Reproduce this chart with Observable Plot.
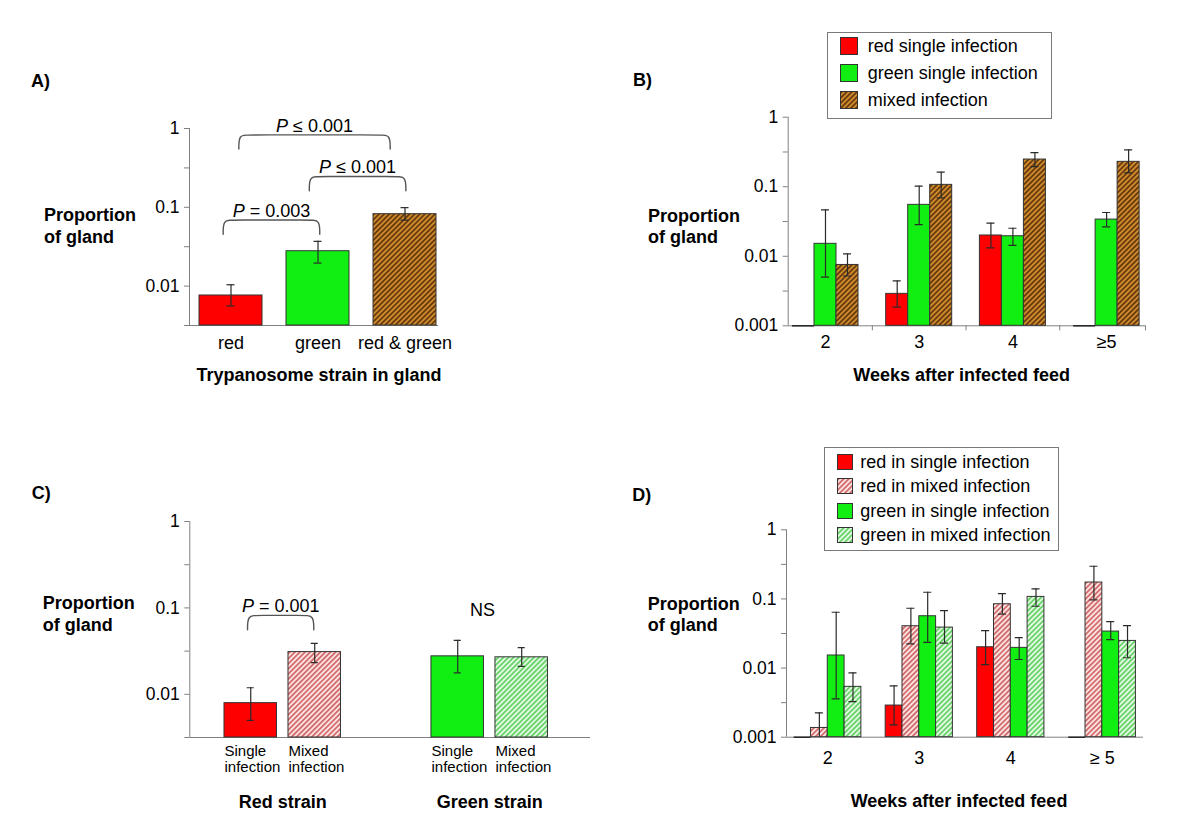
<!DOCTYPE html>
<html>
<head>
<meta charset="utf-8">
<script src="https://cdn.jsdelivr.net/npm/d3@7"></script>
<script src="https://cdn.jsdelivr.net/npm/@observablehq/plot@0.6"></script>
<style>
  html, body { margin: 0; padding: 0; background: #fff; }
  #page { position: relative; width: 1200px; height: 831px; overflow: hidden;
          font-family: "Liberation Sans", Arial, Helvetica, sans-serif; color: #000; }
  .abs { position: absolute; white-space: nowrap; }
  .legend { position: absolute; border: 1px solid #7a7a7a; background: #fff; box-sizing: border-box; }
</style>
</head>
<body>
<svg width="0" height="0" style="position:absolute">
  <defs>
    <pattern id="hatchBrown" width="3.6" height="3.6" patternUnits="userSpaceOnUse" patternTransform="rotate(45)">
      <rect width="3.6" height="3.6" fill="#d08a2e"/>
      <line x1="1.8" y1="0" x2="1.8" y2="3.6" stroke="#5c3208" stroke-width="1.6"/>
    </pattern>
    <pattern id="hatchRed" width="3.6" height="3.6" patternUnits="userSpaceOnUse" patternTransform="rotate(45)">
      <rect width="3.6" height="3.6" fill="#fde2e2"/>
      <line x1="1.8" y1="0" x2="1.8" y2="3.6" stroke="#c24040" stroke-width="1.3"/>
    </pattern>
    <pattern id="hatchGreen" width="3.6" height="3.6" patternUnits="userSpaceOnUse" patternTransform="rotate(45)">
      <rect width="3.6" height="3.6" fill="#e2f9e2"/>
      <line x1="1.8" y1="0" x2="1.8" y2="3.6" stroke="#3cc43c" stroke-width="1.3"/>
    </pattern>
  </defs>
</svg>
<div id="page"></div>
<script>
// ===================== DATA =====================
const yTicksAB = [1, 0.1, 0.01, 0.001];
const yTickLabelsAB = ["1", "0.1", "0.01", "0.001"];

// ---- Panel A: proportion of gland by strain ----
const aStrains = ["red", "green", "red & green"];
const aMean = [0.0076, 0.0277, 0.0818];
const aLow  = [0.0056, 0.0196, 0.0687];
const aHigh = [0.0104, 0.0370, 0.0990];
const aPLabels = ["P = 0.003", "P ≤ 0.001", "P ≤ 0.001"];
const aPFrom  = [-0.09, 0.90, 0.09];   // bracket ends, in category units
const aPTo    = [1.02, 2.01, 1.83];
const aPLevel = [0.069, 0.246, 0.83];  // bracket height, proportion

// ---- Panel B: by weeks after infected feed ----
const weeksB = ["2", "3", "4", "≥5"];
const bSeries = ["red single infection", "green single infection", "mixed infection"];
const bRedMean   = [0, 0.00288, 0.0199, 0];
const bRedLow    = [null, 0.00185, 0.0132, null];
const bRedHigh   = [null, 0.00442, 0.0299, null];
const bGreenMean = [0.0151, 0.0549, 0.0194, 0.0337];
const bGreenLow  = [0.0050, 0.0286, 0.0143, 0.0265];
const bGreenHigh = [0.0465, 0.1017, 0.0253, 0.0426];
const bMixMean   = [0.0075, 0.1064, 0.246, 0.228];
const bMixLow    = [0.0052, 0.0692, 0.195, 0.158];
const bMixHigh   = [0.0108, 0.1617, 0.310, 0.340];

// ---- Panel C: strain in single vs mixed infection ----
const cStrains = ["Red strain", "Green strain"];
const cInfection = ["Single infection", "Mixed infection"];
const cRedMean   = [0.0079, 0.0308];
const cRedLow    = [0.0050, 0.0232];
const cRedHigh   = [0.0119, 0.0388];
const cGreenMean = [0.0275, 0.0268];
const cGreenLow  = [0.0177, 0.0211];
const cGreenHigh = [0.0421, 0.0346];
const cPLabels = ["P = 0.001"];
const cPFrom  = [-0.17];
const cPTo    = [0.15];
const cPLevel = [0.082];
const cNsLabel = "NS";
const cNsLevel = 0.0936;

// ---- Panel D: by weeks, each strain in single / mixed ----
const weeksD = ["2", "3", "4", "≥ 5"];
const dSeries = ["red in single infection", "red in mixed infection", "green in single infection", "green in mixed infection"];
const dRedSingleMean   = [0, 0.00287, 0.0200, 0];
const dRedSingleLow    = [null, 0.00151, 0.0112, null];
const dRedSingleHigh   = [null, 0.00552, 0.0349, null];
const dRedMixedMean    = [0.00136, 0.0403, 0.0838, 0.1727];
const dRedMixedLow     = [0.0008, 0.0224, 0.0601, 0.0970];
const dRedMixedHigh    = [0.00225, 0.0733, 0.1197, 0.297];
const dGreenSingleMean = [0.0152, 0.0562, 0.0196, 0.0337];
const dGreenSingleLow  = [0.00358, 0.0236, 0.0133, 0.0258];
const dGreenSingleHigh = [0.0642, 0.125, 0.0276, 0.0471];
const dGreenMixedMean  = [0.00535, 0.0385, 0.107, 0.0247];
const dGreenMixedLow   = [0.00327, 0.0229, 0.0784, 0.0141];
const dGreenMixedHigh  = [0.00853, 0.0679, 0.140, 0.0412];

// ===================== STYLE =====================
const FONT = '"Liberation Sans", Arial, Helvetica, sans-serif';
const AXIS = "#808080";
const BAR_STROKE = "#333";
const ERR = "#2a2a2a";
const BRACKET = "#555";
const RED = "#ff0000", GREEN = "#11ee11";
const BROWN_H = "url(#hatchBrown)", RED_H = "url(#hatchRed)", GREEN_H = "url(#hatchGreen)";
const page = document.getElementById("page");

// ===================== HELPERS =====================
function addText(lines, x, yCenter, {size = 18, bold = false, anchor = "start", lh = size} = {}) {
  const d = document.createElement("div");
  d.className = "abs";
  d.style.left = x + "px";
  d.style.top = (yCenter - lh / 2) + "px";
  d.style.fontSize = size + "px";
  d.style.lineHeight = lh + "px";
  d.style.fontWeight = bold ? "bold" : "normal";
  d.style.textAlign = anchor === "middle" ? "center" : "left";
  if (anchor === "middle") d.style.transform = "translateX(-50%)";
  d.innerHTML = lines.join("<br>");
  page.appendChild(d);
}

function italicP(svg) {
  svg.querySelectorAll("text").forEach(t => {
    const s = t.textContent;
    if (/^P [=≤]/.test(s) && t.children.length === 0) {
      t.textContent = "";
      const a = document.createElementNS("http://www.w3.org/2000/svg", "tspan");
      a.setAttribute("font-style", "italic"); a.textContent = "P";
      const b = document.createElementNS("http://www.w3.org/2000/svg", "tspan");
      b.textContent = s.slice(1);
      t.appendChild(a); t.appendChild(b);
    }
  });
}

function panel({left, top, width, height, xPix, yPix, xDomain, yDomain, marks}) {
  const svg = Plot.plot({
    width, height,
    marginLeft: xPix[0] - left, marginRight: left + width - xPix[1],
    marginTop: yPix[1] - top, marginBottom: top + height - yPix[0],
    x: {type: "linear", domain: xDomain, axis: null},
    y: {type: "log", domain: yDomain, axis: null},
    color: {type: "identity"},
    style: {fontFamily: FONT, fontSize: "18px", background: "transparent", overflow: "visible", color: "#000"},
    marks
  });
  svg.style.position = "absolute";
  svg.style.left = left + "px";
  svg.style.top = top + "px";
  italicP(svg);
  page.appendChild(svg);
}

function axesMarks(xDomain, yDomain, labeled, labels, unlabeled) {
  return [
    Plot.ruleX([xDomain[0]], {stroke: AXIS, strokeWidth: 1}),
    Plot.ruleY([yDomain[0]], {stroke: AXIS, strokeWidth: 1}),
    Plot.axisY(labeled, {tickSize: 5, tickPadding: 5, stroke: AXIS, fill: "#000", fontSize: 17.5,
      tickFormat: d => labels[labeled.indexOf(d)], label: null}),
    Plot.axisY(unlabeled, {tickSize: 5, stroke: AXIS, tickFormat: () => "", label: null})
  ];
}

function barMarks(rows, hw, cap, ymin) {
  const withErr = rows.filter(d => d.lo != null && d.mean > 0);
  return [
    Plot.rect(rows.filter(d => d.mean > 0), {
      x1: d => d.cx - hw, x2: d => d.cx + hw, y1: () => ymin, y2: "mean",
      fill: "fill", stroke: BAR_STROKE, strokeWidth: 1
    }),
    Plot.ruleY(rows.filter(d => d.mean === 0), {
      y: () => ymin, x1: d => d.cx - hw, x2: d => d.cx + hw, stroke: "#222", strokeWidth: 1.5
    }),
    Plot.ruleX(withErr, {x: "cx", y1: "lo", y2: "hi", stroke: ERR, strokeWidth: 1.2, clip: true}),
    Plot.ruleY(withErr, {y: "hi", x1: d => d.cx - cap, x2: d => d.cx + cap, stroke: ERR, strokeWidth: 1.2, clip: true}),
    Plot.ruleY(withErr, {y: "lo", x1: d => d.cx - cap, x2: d => d.cx + cap, stroke: ERR, strokeWidth: 1.2, clip: true})
  ];
}

function bracketMarks(from, to, level, labels, r, ratio, dyText) {
  const pts = [];
  from.forEach((x1, k) => {
    const x2 = to[k], yt = level[k], yb = yt * ratio;
    [[x1, yb], [x1, yt], [x1 + r, yt], [x2 - r, yt], [x2, yt], [x2, yb]]
      .forEach(([x, y]) => pts.push({k, x, y}));
  });
  return [
    Plot.line(pts, {x: "x", y: "y", z: "k", curve: "basis", stroke: BRACKET, strokeWidth: 1.4}),
    Plot.text(labels, {x: (d, k) => (from[k] + to[k]) / 2, y: (d, k) => level[k], dy: dyText,
      text: d => d, fontSize: 18})
  ];
}

function legend(left, top, w, h, names, fills, {sw, shH, textX, firstRow, rowStep}) {
  const box = document.createElement("div");
  box.className = "legend";
  Object.assign(box.style, {left: left + "px", top: top + "px", width: w + "px", height: h + "px"});
  names.forEach((name, i) => {
    const cy = firstRow + i * rowStep;
    const s = document.createElementNS("http://www.w3.org/2000/svg", "svg");
    s.setAttribute("width", sw); s.setAttribute("height", shH);
    Object.assign(s.style, {position: "absolute", left: "12px", top: (cy - shH / 2) + "px"});
    const r = document.createElementNS("http://www.w3.org/2000/svg", "rect");
    r.setAttribute("x", 0.5); r.setAttribute("y", 0.5);
    r.setAttribute("width", sw - 1); r.setAttribute("height", shH - 1);
    r.setAttribute("fill", fills[i]); r.setAttribute("stroke", BAR_STROKE);
    s.appendChild(r);
    box.appendChild(s);
    const t = document.createElement("div");
    t.className = "abs";
    Object.assign(t.style, {left: textX + "px", top: (cy - 10) + "px", fontSize: "18px", lineHeight: "20px"});
    t.textContent = name;
    box.appendChild(t);
  });
  page.appendChild(box);
}

// ===================== PANEL A =====================
{
  const yDomain = [Math.pow(10, -2.5), 1];
  const xDomain = [-0.477, 2.385];
  const aFills = [RED, GREEN, BROWN_H];
  const rows = aStrains.map((s, i) => ({cx: i, mean: aMean[i], lo: aLow[i], hi: aHigh[i], fill: aFills[i]}));
  panel({
    left: 0, top: 0, width: 600, height: 420,
    xPix: [189, 438], yPix: [325, 128], xDomain, yDomain,
    marks: [
      ...axesMarks(xDomain, yDomain, [1, 0.1, 0.01], ["1", "0.1", "0.01"], [0.316, 0.0316, yDomain[0]]),
      ...barMarks(rows, 0.362, 0.046, yDomain[0]),
      ...bracketMarks(aPFrom, aPTo, aPLevel, aPLabels, 0.11, 0.66, -9),
      Plot.text(aStrains, {x: (d, i) => i, y: () => yDomain[0], dy: 18, text: d => d, fontSize: 18})
    ]
  });
  addText(["A)"], 31, 80.7, {bold: true});
  addText(["Proportion", "of gland"], 44, 216, {bold: true, lh: 21.6});
  addText(["Trypanosome strain in gland"], 319, 375, {bold: true, anchor: "middle"});
}

// ===================== PANEL B =====================
{
  const yDomain = [0.001, 1];
  const xDomain = [-0.398, 3.415];
  const bw = 22 / 93.7;
  const means = [bRedMean, bGreenMean, bMixMean];
  const lows = [bRedLow, bGreenLow, bMixLow];
  const highs = [bRedHigh, bGreenHigh, bMixHigh];
  const fills = [RED, GREEN, BROWN_H];
  const rows = bSeries.flatMap((s, j) => weeksB.map((w, i) => ({
    cx: i + (j - 1) * bw, mean: means[j][i], lo: lows[j][i], hi: highs[j][i], fill: fills[j]
  })));
  const bounds = d3.range(1, weeksB.length).map(i => i - 0.5).concat([xDomain[1]]);
  panel({
    left: 600, top: 0, width: 600, height: 420,
    xPix: [787.7, 1145], yPix: [325.3, 116.7], xDomain, yDomain,
    marks: [
      ...axesMarks(xDomain, yDomain, yTicksAB, yTickLabelsAB, [0.316, 0.0316, 0.00316]),
      Plot.axisX(bounds, {tickSize: 5, stroke: AXIS, tickFormat: () => "", label: null}),
      ...barMarks(rows, bw / 2, 0.043, yDomain[0]),
      Plot.text(weeksB, {x: (d, i) => i, y: () => yDomain[0], dy: 16.5, text: d => d, fontSize: 18})
    ]
  });
  addText(["B)"], 633, 80, {bold: true});
  addText(["Proportion", "of gland"], 648, 216.7, {bold: true, lh: 21.5});
  addText(["Weeks after infected feed"], 961.7, 375, {bold: true, anchor: "middle"});
  legend(826.7, 31.7, 225, 87, bSeries, fills, {sw: 18, shH: 18, textX: 40, firstRow: 13.2, rowStep: 27});
}

// ===================== PANEL C =====================
{
  const yDomain = [Math.pow(10, -2.5), 1];
  const xDomain = [-0.449, 1.487];
  const off = 0.1546, hw = 0.1268;
  const means = [cRedMean, cGreenMean];
  const lows = [cRedLow, cGreenLow];
  const highs = [cRedHigh, cGreenHigh];
  const fills = [[RED, RED_H], [GREEN, GREEN_H]];
  const rows = cStrains.flatMap((s, g) => cInfection.map((inf, j) => ({
    cx: g + (j === 0 ? -off : off), mean: means[g][j], lo: lows[g][j], hi: highs[g][j],
    fill: fills[g][j], label: inf.replace(" ", "\n")
  })));
  panel({
    left: 0, top: 420, width: 600, height: 411,
    xPix: [189.3, 590], yPix: [737, 521], xDomain, yDomain,
    marks: [
      ...axesMarks(xDomain, yDomain, [1, 0.1, 0.01], ["1", "0.1", "0.01"], [0.316, 0.0316, yDomain[0]]),
      ...barMarks(rows, hw, 0.017, yDomain[0]),
      ...bracketMarks(cPFrom, cPTo, cPLevel, cPLabels, 0.05, 0.68, -9.5),
      Plot.text([cNsLabel], {x: () => 0.965, y: () => cNsLevel, text: d => d, fontSize: 18}),
      Plot.text(rows, {x: d => d.cx - hw, y: () => yDomain[0], dy: 7.5, text: "label",
        textAnchor: "start", lineAnchor: "top", lineHeight: 1.07, fontSize: 15}),
      Plot.text(cStrains, {x: (d, i) => i, y: () => yDomain[0], dy: 64.5, text: d => d,
        fontSize: 18, fontWeight: "bold"})
    ]
  });
  addText(["C)"], 31.7, 493.3, {bold: true});
  addText(["Proportion", "of gland"], 42.7, 604, {bold: true, lh: 21.5});
}

// ===================== PANEL D =====================
{
  const yDomain = [0.001, 1];
  const xDomain = [-0.451, 3.45];
  const bw = 16.8 / 91.5;
  const means = [dRedSingleMean, dRedMixedMean, dGreenSingleMean, dGreenMixedMean];
  const lows = [dRedSingleLow, dRedMixedLow, dGreenSingleLow, dGreenMixedLow];
  const highs = [dRedSingleHigh, dRedMixedHigh, dGreenSingleHigh, dGreenMixedHigh];
  const fills = [RED, RED_H, GREEN, GREEN_H];
  const rows = dSeries.flatMap((s, j) => weeksD.map((w, i) => ({
    cx: i + (j - 1.5) * bw, mean: means[j][i], lo: lows[j][i], hi: highs[j][i], fill: fills[j]
  })));
  panel({
    left: 600, top: 420, width: 600, height: 411,
    xPix: [786, 1143], yPix: [736.7, 529.3], xDomain, yDomain,
    marks: [
      ...axesMarks(xDomain, yDomain, yTicksAB, yTickLabelsAB, [0.316, 0.0316, 0.00316]),
      ...barMarks(rows, bw / 2, 0.044, yDomain[0]),
      Plot.text(weeksD, {x: (d, i) => i, y: () => yDomain[0], dy: 21.5, text: d => d, fontSize: 18})
    ]
  });
  addText(["D)"], 632.3, 495, {bold: true});
  addText(["Proportion", "of gland"], 647.7, 604.3, {bold: true, lh: 21});
  addText(["Weeks after infected feed"], 959, 801, {bold: true, anchor: "middle"});
  legend(824.3, 447.3, 235, 104, dSeries, fills, {sw: 16, shH: 16, textX: 35, firstRow: 13.5, rowStep: 24.5});
}
</script>
</body>
</html>
